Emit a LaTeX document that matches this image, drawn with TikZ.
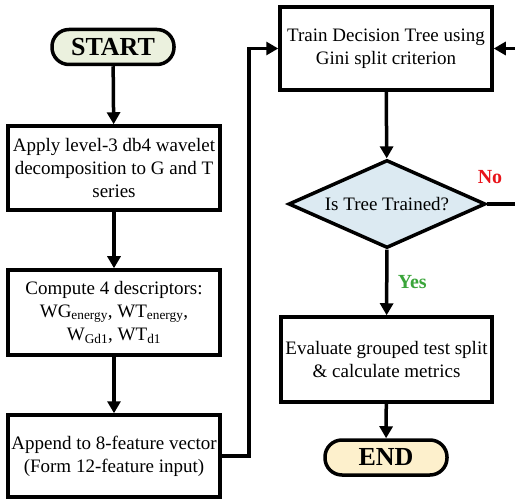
\documentclass[tikz,border=0pt]{standalone}
\usepackage{fontspec}
\setmainfont{Liberation Serif}
\usetikzlibrary{shapes.geometric,arrows.meta}
\definecolor{startfill}{HTML}{EBF1DE}
\definecolor{decfill}{HTML}{DCEAF2}
\definecolor{endfill}{HTML}{FDF0CC}
\definecolor{nogreen}{HTML}{3AA53A}
\definecolor{nored}{HTML}{E8141B}
\begin{document}
\begin{tikzpicture}[x=1pt,y=-1pt,
  every node/.style={font=\fontsize{19}{23}\selectfont},
  proc/.style={draw,line width=3.5pt,fill=white,align=center,minimum width=212pt,inner sep=2pt},
  term/.style={draw,line width=3.5pt,rounded corners=17pt,minimum width=122pt,minimum height=35pt,inner sep=0pt,font=\fontsize{26}{28}\selectfont\bfseries},
  decision/.style={draw,line width=3.5pt,diamond,aspect=2.24,minimum width=197pt,minimum height=88pt,inner sep=0pt,fill=decfill},
  flow/.style={line width=3.5pt,-{Triangle[length=12pt,width=13pt]}},
  lbl/.style={font=\fontsize{20}{22}\selectfont\bfseries}]
\useasboundingbox (0,0) rectangle (515,500);

% left column
\node[term,fill=startfill] (start) at (113,47) {START};
\node[proc,minimum height=84pt] (wave) at (114,168)
  {Apply level-3 db4 wavelet\\decomposition to G and T\\series};
\node[proc,minimum height=85pt] (desc) at (114,312.5)
  {Compute 4 descriptors:\\WG\textsubscript{energy}, WT\textsubscript{energy},\\W\textsubscript{Gd1}, WT\textsubscript{d1}};
\node[proc,minimum height=82pt] (append) at (114,456)
  {Append to 8-feature vector\\(Form 12-feature input)};

% right column
\node[proc,minimum height=83pt] (train) at (386,48.5)
  {Train Decision Tree using\\Gini split criterion};
\node[decision] (check) at (387,204) {Is Tree Trained?};
\node[proc,minimum width=211pt,minimum height=85pt] (eval) at (386.5,359.5)
  {Evaluate grouped test split\\\& calculate metrics};
\node[term,fill=endfill] (stop) at (386,457.5) {END};

% connectors
\draw[flow] (start) -- (wave);
\draw[flow] (wave) -- (desc);
\draw[flow] (desc) -- (append);
\draw[flow] (append.east) -- ++(27,0) |- (train.west);
\draw[flow] (train) -- (check);
\draw[flow] (check) -- node[lbl,text=nogreen,right=6pt,pos=0.5] {Yes} (eval);
\draw[flow] (eval) -- (stop);
\coordinate (loop) at (535,204);
\draw[flow] (check.east) -- (loop) |- (train.east);
\node[lbl,text=nored] (no) at (490,177) {No};
\end{tikzpicture}
\end{document}
